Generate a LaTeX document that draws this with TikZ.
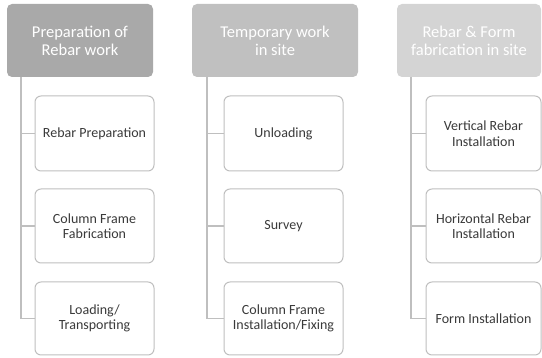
\documentclass[tikz,border=0pt]{standalone}
\usepackage{fontspec}
\setmainfont{Carlito}
\definecolor{hA}{HTML}{A9A9A9}
\definecolor{hB}{HTML}{C0C0C0}
\definecolor{hC}{HTML}{D4D4D4}
\definecolor{edge}{HTML}{BFBFBF}
\definecolor{txt}{HTML}{3A3A3A}
\begin{document}
\begin{tikzpicture}[x=1pt,y=1pt,
  header/.style={rounded corners=5pt, draw=none, minimum height=73pt, align=center, text=white,
    font=\fontsize{16.5}{18}\selectfont, inner sep=0pt, outer sep=0pt},
  item/.style={rounded corners=6pt, draw=edge, line width=1pt, fill=white, minimum width=119pt,
    align=center, text=txt, font=\fontsize{14}{15.5}\selectfont, inner sep=0pt, outer sep=0pt},
  conn/.style={draw=edge, line width=1.5pt}]
\useasboundingbox (0,0) rectangle (542,358);
% headers
\node[header, fill=hA, minimum width=146pt] (h1) at (80,317.5) {Preparation of\\Rebar work};
\node[header, fill=hB, minimum width=166pt] (h2) at (275,317.5) {Temporary work\\in site};
\node[header, fill=hC, minimum width=144pt] (h3) at (469,317.5) {Rebar \& Form\\fabrication in site};
% line coordinates
\coordinate (l1) at (21,0);
\coordinate (l2) at (207,0);
\coordinate (l3) at (411,0);
% column 1
\node[item, minimum height=75pt] (b11) at (94.5,224.5) {Rebar Preparation};
\node[item, minimum height=74pt] (b12) at (94.5,132) {Column Frame\\Fabrication};
\node[item, minimum height=73pt] (b13) at (94.5,39.5) {Loading/\\Transporting};
% column 2
\node[item, minimum height=75pt] (b21) at (283.5,224.5) {Unloading};
\node[item, minimum height=74pt] (b22) at (283.5,132) {Survey};
\node[item, minimum height=73pt] (b23) at (283.5,39.5) {Column Frame\\Installation/Fixing};
% column 3
\node[item, minimum width=115pt, minimum height=75pt] (b31) at (483.5,224.5) {Vertical Rebar\\Installation};
\node[item, minimum width=115pt, minimum height=74pt] (b32) at (483.5,132) {Horizontal Rebar\\Installation};
\node[item, minimum width=115pt, minimum height=73pt] (b33) at (483.5,39.5) {Form Installation};
% connectors
\draw[conn] (h1.south -| l1) |- (b13.west);
\draw[conn] (b11.west -| l1) -- (b11.west);
\draw[conn] (b12.west -| l1) -- (b12.west);
\draw[conn] (h2.south -| l2) |- (b23.west);
\draw[conn] (b21.west -| l2) -- (b21.west);
\draw[conn] (b22.west -| l2) -- (b22.west);
\draw[conn] (h3.south -| l3) |- (b33.west);
\draw[conn] (b31.west -| l3) -- (b31.west);
\draw[conn] (b32.west -| l3) -- (b32.west);
\end{tikzpicture}
\end{document}
